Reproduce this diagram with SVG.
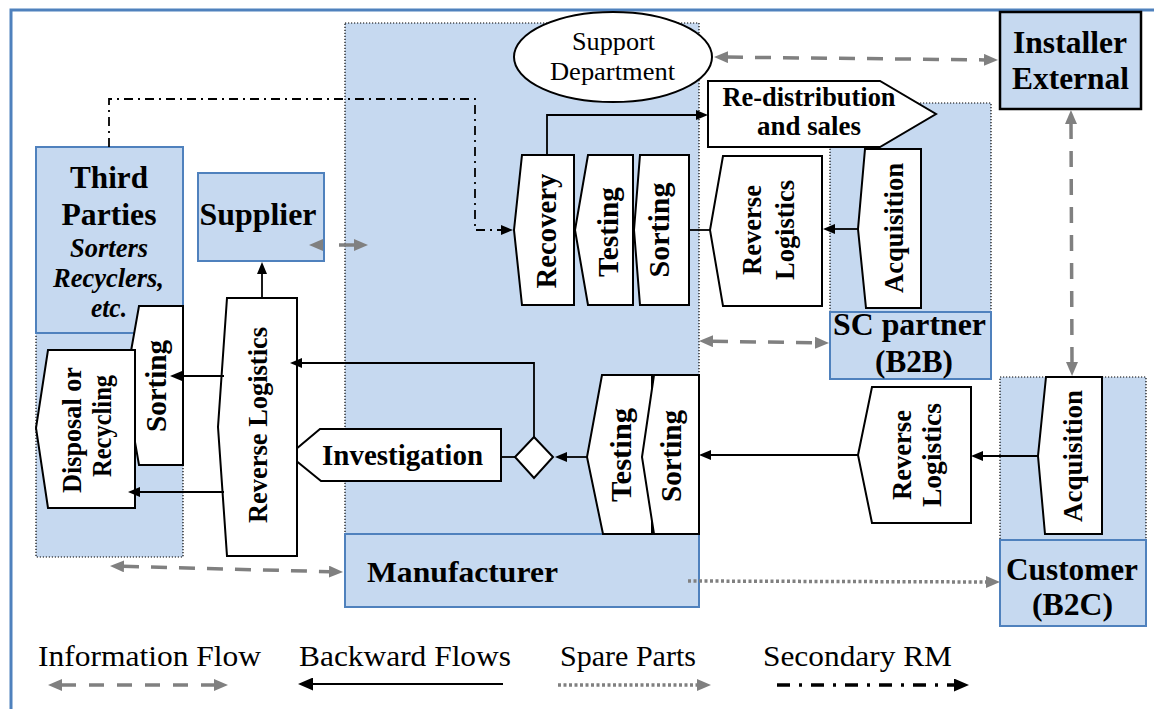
<svg xmlns="http://www.w3.org/2000/svg" width="1154" height="709" viewBox="0 0 1154 709">
<style>
  .frame{fill:none;stroke:#4f81bd;stroke-width:3}
  .zone{fill:#c6d9f0;stroke:#000;stroke-width:1.2;stroke-dasharray:1.2 1.8}
  .org{fill:#c6d9f0;stroke:#4f81bd;stroke-width:2}
  .ext{fill:#c6d9f0;stroke:#000;stroke-width:2.5}
  .step{fill:#fff;stroke:#000;stroke-width:2;stroke-linejoin:miter}
  .t{font-family:"Liberation Serif","Times New Roman",serif;fill:#000}
  .b{font-weight:bold}
  .flow{fill:none;stroke:#000;stroke-width:1.8}
  .info{fill:none;stroke:#808080;stroke-width:3.5;stroke-dasharray:16 12}
  .spare{fill:none;stroke:#808080;stroke-width:3.5;stroke-dasharray:3 2.5}
  .rm{fill:none;stroke:#000;stroke-width:1.8;stroke-dasharray:9 5 2 5}
</style>
<defs>
  <marker id="ah" viewBox="0 0 12 10" markerUnits="userSpaceOnUse" markerWidth="12" markerHeight="10" refX="1" refY="5" orient="auto"><path d="M0,0 L12,5 L0,10 z" fill="#000"/></marker>
  <marker id="ahL" viewBox="0 0 15 13" markerUnits="userSpaceOnUse" markerWidth="15" markerHeight="13" refX="1" refY="6.5" orient="auto"><path d="M0,0 L15,6.5 L0,13 z" fill="#000"/></marker>
  <marker id="ag" viewBox="0 0 14 12" markerUnits="userSpaceOnUse" markerWidth="14" markerHeight="12" refX="1" refY="6" orient="auto-start-reverse"><path d="M0,0 L14,6 L0,12 z" fill="#808080"/></marker>
</defs>

<!-- outer frame (top and left rules) -->
<path class="frame" d="M11,709 V10 H1154"/>

<!-- organisation zones -->
<g id="zone-manufacturer"><rect class="zone" x="345" y="23" width="354" height="511"/></g>
<g id="zone-third-parties"><rect class="zone" x="36" y="333" width="147" height="224"/></g>
<g id="zone-sc-partner"><rect class="zone" x="830" y="103" width="161" height="209"/></g>
<g id="zone-customer"><rect class="zone" x="1000" y="377" width="146" height="163"/></g>

<g id="third-parties">
  <rect class="org" x="36" y="147" width="147" height="186"/>
  <text class="t b" x="109" y="188" font-size="32" text-anchor="middle" textLength="78" lengthAdjust="spacingAndGlyphs">Third</text>
  <text class="t b" x="109" y="225" font-size="32" text-anchor="middle" textLength="95" lengthAdjust="spacingAndGlyphs">Parties</text>
  <text class="t b" x="109" y="257" font-size="27" font-style="italic" text-anchor="middle" textLength="78" lengthAdjust="spacingAndGlyphs">Sorters</text>
  <text class="t b" x="108.5" y="287" font-size="27" font-style="italic" text-anchor="middle" textLength="111" lengthAdjust="spacingAndGlyphs">Recyclers,</text>
  <text class="t b" x="109" y="317" font-size="27" font-style="italic" text-anchor="middle" textLength="36" lengthAdjust="spacingAndGlyphs">etc.</text>
</g>

<g id="supplier">
  <rect class="org" x="198" y="173" width="126" height="88"/>
  <text class="t b" x="258" y="225" font-size="32" text-anchor="middle" textLength="117" lengthAdjust="spacingAndGlyphs">Supplier</text>
</g>

<g id="manufacturer">
  <rect class="org" x="345" y="534" width="354" height="73"/>
  <text class="t b" x="462.5" y="582" font-size="30" text-anchor="middle" textLength="191" lengthAdjust="spacingAndGlyphs">Manufacturer</text>
</g>

<g id="sc-partner">
  <rect class="org" x="830" y="312" width="161" height="67"/>
  <text class="t b" x="909.5" y="335" font-size="32" text-anchor="middle" textLength="153" lengthAdjust="spacingAndGlyphs">SC partner</text>
  <text class="t b" x="914" y="372" font-size="32" text-anchor="middle" textLength="78" lengthAdjust="spacingAndGlyphs">(B2B)</text>
</g>

<g id="customer">
  <rect class="org" x="1000" y="540" width="146" height="86"/>
  <text class="t b" x="1072" y="580" font-size="32" text-anchor="middle" textLength="132" lengthAdjust="spacingAndGlyphs">Customer</text>
  <text class="t b" x="1072.5" y="615" font-size="32" text-anchor="middle" textLength="81" lengthAdjust="spacingAndGlyphs">(B2C)</text>
</g>

<g id="installer-external">
  <rect class="ext" x="1000" y="12" width="141" height="97"/>
  <text class="t b" x="1070" y="53" font-size="32" text-anchor="middle" textLength="114" lengthAdjust="spacingAndGlyphs">Installer</text>
  <text class="t b" x="1070.5" y="89" font-size="32" text-anchor="middle" textLength="117" lengthAdjust="spacingAndGlyphs">External</text>
</g>

<g id="support-department">
  <ellipse class="step" cx="613" cy="57" rx="99" ry="45"/>
  <text class="t" x="613.5" y="50" font-size="26" text-anchor="middle" textLength="83" lengthAdjust="spacingAndGlyphs">Support</text>
  <text class="t" x="612.5" y="80" font-size="26" text-anchor="middle" textLength="125" lengthAdjust="spacingAndGlyphs">Department</text>
</g>

<g id="redistribution">
  <polygon class="step" points="708,81 880,81 936,114 880,147 708,147"/>
  <text class="t b" x="809" y="106" font-size="28" text-anchor="middle" textLength="173" lengthAdjust="spacingAndGlyphs">Re-distribution</text>
  <text class="t b" x="809" y="135" font-size="28" text-anchor="middle" textLength="104" lengthAdjust="spacingAndGlyphs">and sales</text>
</g>

<!-- manufacturer upper chain -->
<g id="recovery">
  <polygon class="step" points="522,155 574,155 574,305 522,305 514,230"/>
  <text class="t b" x="556" y="231" font-size="29" text-anchor="middle" transform="rotate(-90 556 231)" textLength="115" lengthAdjust="spacingAndGlyphs">Recovery</text>
</g>
<g id="testing-upper">
  <polygon class="step" points="588,155 633,155 633,305 588,305 575,230"/>
  <text class="t b" x="618" y="232" font-size="29" text-anchor="middle" transform="rotate(-90 618 232)" textLength="90" lengthAdjust="spacingAndGlyphs">Testing</text>
</g>
<g id="sorting-upper">
  <polygon class="step" points="640,155 689,155 689,305 640,305 634,230"/>
  <text class="t b" x="669" y="230" font-size="29" text-anchor="middle" transform="rotate(-90 669 230)" textLength="95" lengthAdjust="spacingAndGlyphs">Sorting</text>
</g>

<g id="reverse-logistics-b2b">
  <polygon class="step" points="723,156 822,156 822,306 723,306 710,230"/>
  <text class="t b" x="761" y="230" font-size="27" text-anchor="middle" transform="rotate(-90 761 230)" textLength="90" lengthAdjust="spacingAndGlyphs">Reverse</text>
  <text class="t b" x="794" y="230" font-size="27" text-anchor="middle" transform="rotate(-90 794 230)" textLength="100" lengthAdjust="spacingAndGlyphs">Logistics</text>
</g>
<g id="acquisition-b2b">
  <polygon class="step" points="865,149 921,149 921,308 866,308 858,229"/>
  <text class="t b" x="903" y="228" font-size="28" text-anchor="middle" transform="rotate(-90 903 228)" textLength="130" lengthAdjust="spacingAndGlyphs">Acquisition</text>
</g>

<!-- manufacturer lower chain -->
<g id="testing-lower">
  <polygon class="step" points="602,375 652,375 652,534 603,534 587,457"/>
  <text class="t b" x="631" y="455" font-size="29" text-anchor="middle" transform="rotate(-90 631 455)" textLength="94" lengthAdjust="spacingAndGlyphs">Testing</text>
</g>
<g id="sorting-lower">
  <polygon class="step" points="654,375 699,375 699,534 654,534 642,457"/>
  <text class="t b" x="681" y="456" font-size="29" text-anchor="middle" transform="rotate(-90 681 456)" textLength="92" lengthAdjust="spacingAndGlyphs">Sorting</text>
</g>
<g id="decision">
  <polygon class="step" points="534,437 553,457 534,478 515,457"/>
</g>
<g id="investigation">
  <polygon class="step" points="320,429 501,429 501,481 321,481 289,455"/>
  <text class="t b" x="402.5" y="465" font-size="30" text-anchor="middle" textLength="161" lengthAdjust="spacingAndGlyphs">Investigation</text>
</g>

<g id="reverse-logistics-b2c">
  <polygon class="step" points="872,387 971,387 971,523 872,523 858,455"/>
  <text class="t b" x="911" y="455" font-size="27" text-anchor="middle" transform="rotate(-90 911 455)" textLength="90" lengthAdjust="spacingAndGlyphs">Reverse</text>
  <text class="t b" x="941" y="455" font-size="27" text-anchor="middle" transform="rotate(-90 941 455)" textLength="104" lengthAdjust="spacingAndGlyphs">Logistics</text>
</g>
<g id="acquisition-b2c">
  <polygon class="step" points="1046,377 1102,377 1102,534 1045,534 1038,456"/>
  <text class="t b" x="1082" y="456" font-size="28" text-anchor="middle" transform="rotate(-90 1082 456)" textLength="132" lengthAdjust="spacingAndGlyphs">Acquisition</text>
</g>

<!-- third-party side -->
<g id="reverse-logistics-main">
  <polygon class="step" points="227,298 297,298 297,556 227,556 218,427"/>
  <text class="t b" x="267" y="425" font-size="28" text-anchor="middle" transform="rotate(-90 267 425)" textLength="196" lengthAdjust="spacingAndGlyphs">Reverse Logistics</text>
</g>
<g id="sorting-third-party">
  <polygon class="step" points="139,306 183,306 183,465 139,465 125,385"/>
  <text class="t b" x="166" y="386" font-size="29" text-anchor="middle" transform="rotate(-90 166 386)" textLength="92" lengthAdjust="spacingAndGlyphs">Sorting</text>
</g>
<g id="disposal-recycling">
  <polygon class="step" points="48,350 135,350 135,508 48,508 36,428"/>
  <text class="t b" x="81" y="430" font-size="27" text-anchor="middle" transform="rotate(-90 81 430)" textLength="126" lengthAdjust="spacingAndGlyphs">Disposal or</text>
  <text class="t b" x="111" y="426" font-size="27" text-anchor="middle" transform="rotate(-90 111 426)" textLength="102" lengthAdjust="spacingAndGlyphs">Recycling</text>
</g>

<!-- connectors -->
<g id="connectors">
  <!-- backward flows -->
  <path class="flow" d="M547,155 V115 H697" marker-end="url(#ah)"/>
  <path class="flow" d="M689,230 H710"/>
  <path class="flow" d="M858,229 H834" marker-end="url(#ah)"/>
  <path class="flow" d="M1038,456 H982" marker-end="url(#ah)"/>
  <path class="flow" d="M858,455 H710" marker-end="url(#ah)"/>
  <path class="flow" d="M587,457 H566" marker-end="url(#ah)"/>
  <path class="flow" d="M515,457 H501"/>
  <path class="flow" d="M534,437 V363 H301" marker-end="url(#ah)"/>
  <path class="flow" d="M262,298 V273" marker-end="url(#ah)"/>
  <path class="flow" d="M224,376 H181" marker-end="url(#ah)"/>
  <path class="flow" d="M224,492 H139" marker-end="url(#ah)"/>
  <!-- secondary raw material -->
  <path class="rm" d="M109,147 V99 H475 V230 H502" marker-end="url(#ah)"/>
  <!-- information flows -->
  <path class="info" d="M727,57.1 L985,59.9" marker-start="url(#ag)" marker-end="url(#ag)"/>
  <path class="info" d="M1071,123 L1072,363" marker-start="url(#ag)" marker-end="url(#ag)"/>
  <path class="info" d="M712,341.2 L816,342.8" marker-start="url(#ag)" marker-end="url(#ag)"/>
  <path class="info" d="M322,245 L355,245" style="stroke-dasharray:0 17 40" marker-start="url(#ag)" marker-end="url(#ag)"/>
  <path class="info" d="M123,566.3 L330,571.7" marker-start="url(#ag)" marker-end="url(#ag)"/>
  <!-- spare parts -->
  <path class="spare" d="M688,581 L987,582" marker-end="url(#ag)"/>
</g>

<!-- legend -->
<g id="legend">
  <text class="t" x="38" y="666" font-size="29" textLength="223" lengthAdjust="spacingAndGlyphs">Information Flow</text>
  <path class="info" d="M61,685 H215" style="stroke-dasharray:15 13" marker-start="url(#ag)" marker-end="url(#ag)"/>
  <text class="t" x="299" y="666" font-size="29" textLength="212" lengthAdjust="spacingAndGlyphs">Backward Flows</text>
  <path class="flow" d="M503,684 H312" style="stroke-width:2" marker-end="url(#ahL)"/>
  <text class="t" x="560" y="666" font-size="29" textLength="136" lengthAdjust="spacingAndGlyphs">Spare Parts</text>
  <path class="spare" d="M558,685 H698" marker-end="url(#ag)"/>
  <text class="t" x="763" y="666" font-size="29" textLength="189" lengthAdjust="spacingAndGlyphs">Secondary RM</text>
  <path class="rm" d="M777,685 H955" style="stroke-width:3.5;stroke-dasharray:13 9 3 9" marker-end="url(#ahL)"/>
</g>
</svg>
